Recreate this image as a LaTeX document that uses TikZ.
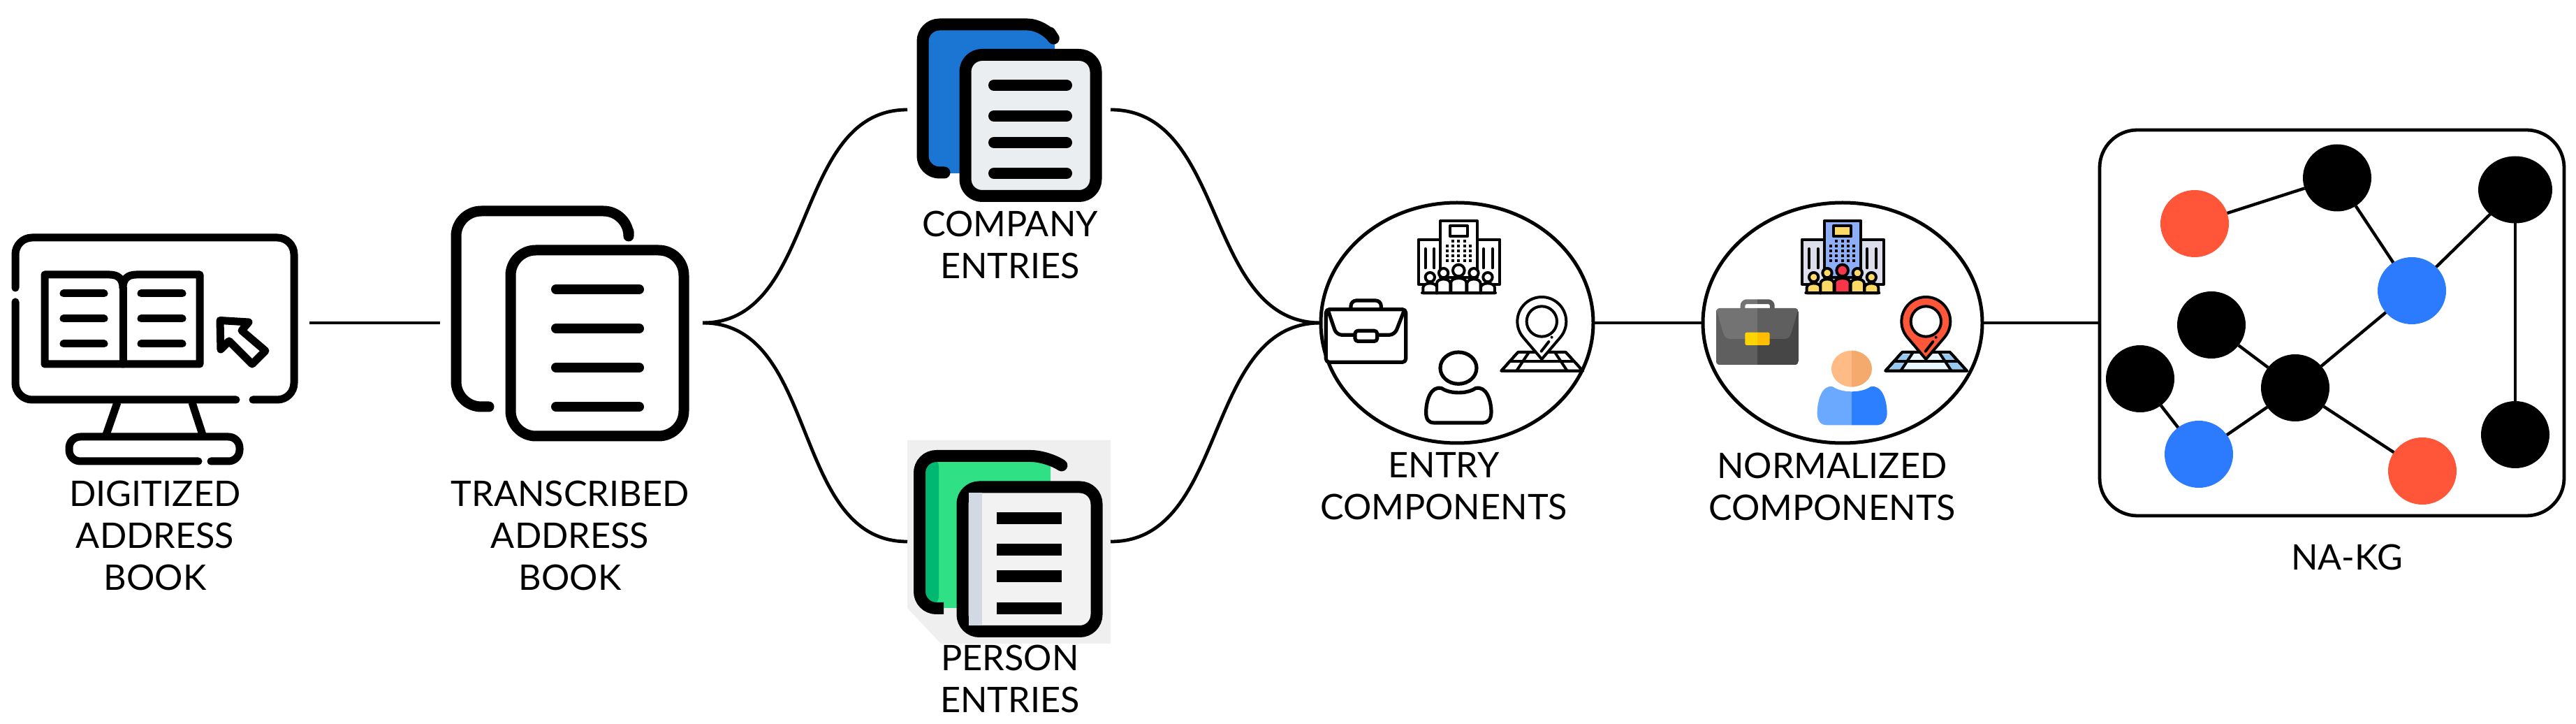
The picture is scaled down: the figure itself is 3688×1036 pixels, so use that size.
\documentclass[tikz,border=0pt]{standalone}
\usepackage{fontspec}
\setmainfont{Lato}
\usetikzlibrary{shapes.geometric}
\definecolor{bluepage}{HTML}{1B76D3}
\definecolor{pagegrey}{HTML}{EBEEF1}
\definecolor{bggrey}{HTML}{EFEFEF}
\definecolor{greendark}{HTML}{00B871}
\definecolor{greenlight}{HTML}{2FE085}
\definecolor{pagelight}{HTML}{F2F2F2}
\definecolor{pagestrip}{HTML}{D3D9E2}
\definecolor{kgred}{HTML}{FF5539}
\definecolor{kgblue}{HTML}{2C7BFF}
\definecolor{towerblue}{HTML}{8FAEF8}
\definecolor{winggrey}{HTML}{DDDDEB}
\definecolor{ppyellow}{HTML}{FFD966}
\definecolor{ppred}{HTML}{F9354A}
\definecolor{cellblue}{HTML}{97C8F0}
\definecolor{cellpale}{HTML}{EAF7FF}
\definecolor{suitA}{HTML}{737373}
\definecolor{suitB}{HTML}{5F5F5F}
\definecolor{suitC}{HTML}{5A5A5A}
\definecolor{suitD}{HTML}{464646}
\definecolor{claspA}{HTML}{FFD500}
\definecolor{claspB}{HTML}{FFBE00}
\definecolor{headA}{HTML}{FFBB85}
\definecolor{headB}{HTML}{F4A96D}
\definecolor{bodyA}{HTML}{6BA8FF}
\definecolor{bodyB}{HTML}{2C80FF}
\tikzset{
  conn/.style={line width=1.2pt,draw=black},
  iconline/.style={line width=2.75pt,line cap=round,line join=round,draw=black},
  pageline/.style={line width=3.75pt,line cap=round,line join=round,draw=black},
  textline/.style={line width=3.5pt,line cap=round,draw=black},
  holder/.style={inner sep=0pt,outer sep=0pt,minimum height=10pt,rectangle},
  bubble/.style={ellipse,draw=black,line width=1.25pt,inner sep=0pt,outer sep=0pt,minimum height=86pt},
  lab/.style={align=center,font=\fontsize{12.6}{15}\selectfont,inner sep=0pt},
  kgnode/.style={ellipse,inner sep=0pt,outer sep=0pt,minimum width=24.5pt,minimum height=24pt,fill=#1},
  kgedge/.style={line width=1.1pt,draw=black},
  tiny/.style={line width=1pt,line cap=round,line join=round,draw=black},
  suitline/.style={line width=1.3pt,line cap=round,line join=round,draw=black}
}
\newcommand{\ppl}[6]{%
  \filldraw[tiny,fill=#6] ({#1-#2},388) -- ({#1-#2},{#3+25}) .. controls ({#1-#2},#3) and ({#1+#2},#3) .. ({#1+#2},{#3+25}) -- ({#1+#2},388) -- cycle;
  \filldraw[tiny,fill=#6] (#1,#4) circle[radius=#5];
}
\newcommand{\bldicon}[5]{%
  \filldraw[tiny,fill=#2] (512,350) -- (512,158) -- (862,158) -- (862,350) -- cycle;
  \filldraw[tiny,fill=#1] (607,320) -- (607,78) -- (765,78) -- (765,320) -- cycle;
  \filldraw[tiny,fill=#3] (648,100) rectangle (723,145);
  \foreach \xx in {660,685,710} {\fill (\xx-6,159) rectangle +(12,12);}
  \foreach \yy in {187,208,229,250} {\foreach \xx in {635,660,685,710,735} {\fill (\xx-6,\yy-6) rectangle +(12,12);}}
  \foreach \xx in {542,580,792,830} {\draw[tiny] (\xx,198) -- (\xx,280);}
  \ppl{562}{30}{340}{320}{20}{#4}
  \ppl{810}{30}{340}{320}{20}{#4}
  \ppl{620}{29}{322}{302}{20}{#4}
  \ppl{750}{29}{322}{302}{20}{#4}
  \ppl{685}{33}{318}{291}{25}{#5}
  \draw[tiny] (528,388) -- (843,388);
}
\newcommand{\pinicon}[3]{%
  \filldraw[tiny,fill=#3] (940,642) -- (1145,642) -- (1218,722) -- (868,722) -- cycle;
  \fill[#2] (940,650) -- (975,650) -- (935,716) -- (885,716) -- cycle;
  \fill[#2] (1110,650) -- (1142,650) -- (1205,716) -- (1150,716) -- cycle;
  \draw[tiny] (940,642) -- (1145,642) -- (1218,722) -- (868,722) -- cycle;
  \draw[tiny] (905,680) -- (1180,680);
  \draw[tiny] (985,645) -- (935,720);
  \draw[tiny] (1100,645) -- (1150,720);
  \filldraw[tiny,fill=#1] (1042,672) -- plot[domain=139.6:400.4,samples=40] ({1042+105*cos(\x)},{510+105*sin(\x)}) -- cycle;
  \filldraw[tiny,fill=white] (1042,510) circle[radius=65];
  \draw[tiny] (1040,638) -- (1072,597);
  \fill (1085,578) circle[radius=6];
}
\newcommand{\bodypath}{(612,797) .. controls (650,822) and (720,822) .. (757,797) .. controls (805,785) and (825,850) .. (825,900) .. controls (825,930) and (810,945) .. (790,945) -- (580,945) .. controls (555,945) and (545,930) .. (545,900) .. controls (545,850) and (565,785) .. (612,797) -- cycle}
\newcommand{\colbody}{(612,790) .. controls (650,818) and (736,818) .. (774,790) .. controls (825,780) and (845,850) .. (845,905) .. controls (845,935) and (825,955) .. (805,955) -- (585,955) .. controls (560,955) and (545,935) .. (545,905) .. controls (545,850) and (565,780) .. (612,790) -- cycle}
\begin{document}
\begin{tikzpicture}[x=0.25pt,y=-0.25pt]
\useasboundingbox (0,0) rectangle (3688,1036);
\fill[white] (0,0) rectangle (3688,1036);

\node[holder,minimum width=106pt] (digit) at (231,462) {};
\node[holder,minimum width=94pt] (trans) at (818,462) {};
\node[holder,minimum width=72.75pt] (company) at (1444.5,157) {};
\node[holder,minimum width=72.75pt] (person) at (1444.5,775) {};

\fill[bggrey] (1299,630) -- (1590,630) -- (1590,921) -- (1347,921) -- (1299,870) -- cycle;

\node[bubble,minimum width=97.5pt] (entry) at (2086,462) {};
\node[bubble,minimum width=100pt] (norm) at (2638,462) {};
\node[rectangle,draw=black,line width=1.2pt,rounded corners=13.5pt,minimum width=166.25pt,minimum height=138pt,inner sep=0pt,outer sep=0pt] (kg) at (3338.5,462) {};

\draw[conn] (digit.east) -- (trans.west);
\draw[conn] (trans.east) to[out=0,in=180] (company.west);
\draw[conn] (trans.east) to[out=0,in=180] (person.west);
\draw[conn] (company.east) to[out=0,in=180] (entry.west);
\draw[conn] (person.east) to[out=0,in=180] (entry.west);
\draw[conn] (entry.east) -- (norm.west);
\draw[conn] (norm.east) -- (kg.west);

% monitor
\draw[iconline,rounded corners=6pt] (22,412) -- (22,340) -- (421,340) -- (421,572) -- (362,572);
\draw[iconline,rounded corners=6pt] (338,572) -- (22,572) -- (22,432);
\draw[iconline,line cap=butt] (168,576) -- (152,622);
\draw[iconline,line cap=butt] (275,576) -- (290,622);
\draw[iconline,rounded corners=4pt] (284,660) -- (99,660) -- (99,625) -- (343,625) -- (343,660) -- (302,660);
\draw[iconline] (64,393) -- (157,393) .. controls (170,393) and (176,400) .. (176,412) .. controls (176,400) and (182,393) .. (195,393) -- (286,393) -- (286,521) -- (64,521) -- cycle;
\draw[iconline] (176,412) -- (176,521);
\foreach \yy in {420,456,492} {
  \draw[iconline] (91,\yy) -- (149,\yy);
  \draw[iconline] (202,\yy) -- (261,\yy);
}
\draw[iconline] (315,458.5) -- (356,461) -- (346,473) -- (380,502) -- (361,521) -- (328,488) -- (316,500) -- cycle;

% transcribed
\draw[pageline,rounded corners=9pt] (900,331) -- (900,302) -- (653,302) -- (653,582) -- (700,582);
\draw[pageline,rounded corners=9pt] (731,358) rectangle (979,624);
\foreach \yy in {414,470,526,582} {\draw[textline] (796,\yy) -- (915,\yy);}

% company
\fill[bluepage,rounded corners=3pt] (1325,40) rectangle (1510,248);
\draw[iconline,line width=4.25pt,rounded corners=6pt] (1503,47) -- (1495,35) -- (1321,35) -- (1321,247) -- (1352,247);
\filldraw[iconline,line width=4.25pt,fill=pagegrey,rounded corners=6pt] (1382,78.5) rectangle (1569,280.5);
\foreach \yy in {122,166,204,248} {\draw[textline,line width=4pt] (1423,\yy) -- (1527,\yy);}

% person
\fill[greenlight,rounded corners=3pt] (1322,655) rectangle (1504,870);
\fill[greendark,rounded corners=3pt] (1322,655) rectangle (1344,866);
\draw[line width=4.25pt,line join=round,draw=black,rounded corners=6pt] (1517,664) -- (1500,652.5) -- (1316.5,652.5) -- (1316.5,870.5) -- (1351,870.5);
\filldraw[line width=4.25pt,draw=black,fill=pagelight,rounded corners=6pt] (1378,697) rectangle (1570,903.5);
\fill[pagestrip] (1387,705.5) -- (1406,705.5) -- (1406,895) -- (1387,895) -- cycle;
\foreach \yy in {742,787,825,871} {\draw[line width=4.25pt] (1427,\yy) -- (1520,\yy);}

% entry components icons
\begin{scope}[shift={(1860,290)},x=0.08333pt,y=-0.08333pt]
  \bldicon{white}{white}{white}{white}{white}
  \pinicon{white}{white}{white}
  \filldraw[suitline,fill=white,rounded corners=1.2pt] (115,458) rectangle (458,685);
  \draw[suitline,rounded corners=2pt] (222,455) -- (222,420) -- (352,420) -- (352,455);
  \draw[suitline,rounded corners=2pt] (125,465) -- (160,568) -- (240,568);
  \draw[suitline,rounded corners=2pt] (335,568) -- (410,568) -- (450,465);
  \filldraw[suitline,fill=white,rounded corners=1pt] (240,550) rectangle (335,595);
  \draw[suitline] (684,710) ellipse[x radius=78,y radius=68];
  \draw[suitline] \bodypath;
\end{scope}

% normalized components icons
\begin{scope}[shift={(2420,290)},x=0.08333pt,y=-0.08333pt]
  \begin{scope}[shift={(-32,0)}]
    \bldicon{towerblue}{winggrey}{ppyellow}{ppyellow}{ppred}
  \end{scope}
  \begin{scope}[shift={(-30,0)}]
    \pinicon{kgred}{cellblue}{cellpale}
  \end{scope}
  % suitcase
  \draw[suitA,line width=1.7pt,rounded corners=1.5pt] (225,455) -- (225,425) -- (288,425);
  \draw[suitC,line width=1.7pt,rounded corners=1.5pt] (288,425) -- (352,425) -- (352,455);
  \begin{scope}
    \clip[rounded corners=1.5pt] (110,453) rectangle (465,697);
    \fill[suitB] (110,453) rectangle (288,697);
    \fill[suitD] (288,453) rectangle (465,697);
    \fill[suitA] (110,453) -- (288,453) -- (288,585) -- (170,585) .. controls (150,585) and (145,570) .. (140,555) -- cycle;
    \fill[suitB] (288,453) -- (465,453) -- (435,555) .. controls (430,575) and (420,585) .. (405,585) -- (288,585) -- cycle;
  \end{scope}
  \fill[claspA,rounded corners=0.6pt] (235,557) rectangle (300,612);
  \fill[claspB,rounded corners=0.6pt] (288,557) rectangle (341,612);
  % person
  \begin{scope}
    \clip (500,600) rectangle (693,800);
    \fill[headA] (693,713) ellipse[x radius=87,y radius=78];
  \end{scope}
  \begin{scope}
    \clip (693,600) rectangle (800,800);
    \fill[headB] (693,713) ellipse[x radius=87,y radius=78];
  \end{scope}
  \begin{scope}
    \clip (500,760) rectangle (693,960);
    \fill[bodyA] \colbody;
  \end{scope}
  \begin{scope}
    \clip (693,760) rectangle (900,960);
    \fill[bodyB] \colbody;
  \end{scope}
\end{scope}

% graph
\node[kgnode=kgred] (g1) at (3142,320) {};
\node[kgnode=black] (g2) at (3346,254.5) {};
\node[kgnode=black,minimum width=26.5pt] (g3) at (3601,271.5) {};
\node[kgnode=kgblue] (g4) at (3453,416) {};
\node[kgnode=black] (g5) at (3166,465) {};
\node[kgnode=black] (g6) at (3064,542) {};
\node[kgnode=black] (g7) at (3286,555) {};
\node[kgnode=kgblue] (g8) at (3148,650) {};
\node[kgnode=kgred] (g9) at (3468,674) {};
\node[kgnode=black] (g10) at (3601,622) {};
\draw[kgedge] (g1) -- (g2);
\draw[kgedge] (g2) -- (g4);
\draw[kgedge] (g4) -- (g3);
\draw[kgedge] (g3) -- (g10);
\draw[kgedge] (g4) -- (g7);
\draw[kgedge] (g5) -- (g7);
\draw[kgedge] (g6) -- (g8);
\draw[kgedge] (g8) -- (g7);
\draw[kgedge] (g7) -- (g9);

% labels
\node[lab] (l1) at (222,766) {DIGITIZED\\ADDRESS\\BOOK};
\node[lab] (l2) at (816,766) {TRANSCRIBED\\ADDRESS\\BOOK};
\node[lab] (l3) at (1446,350) {COMPANY\\ENTRIES};
\node[lab] (l4) at (1446,971) {PERSON\\ENTRIES};
\node[lab] (l5) at (2067,696) {ENTRY\\COMPONENTS};
\node[lab] (l6) at (2623,696) {NORMALIZED\\COMPONENTS};
\node[lab] (l7) at (3360,797) {NA-KG};
\end{tikzpicture}
\end{document}
